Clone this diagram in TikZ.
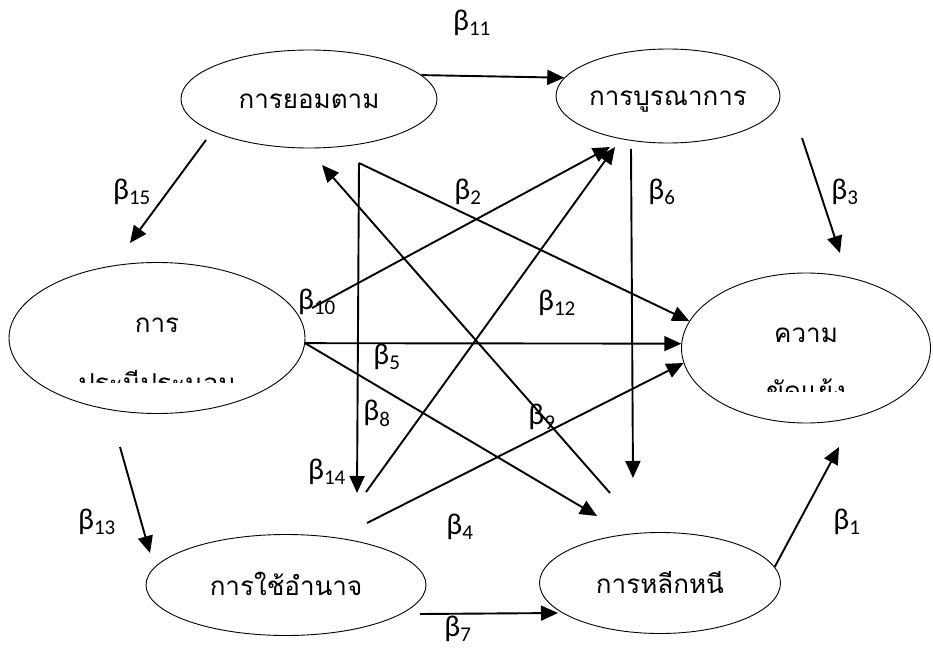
\documentclass[tikz,border=0pt]{standalone}
\usepackage{fontspec}
\setmainfont{Carlito}
\newfontfamily\thaifont[Script=Thai]{Loma}
\usetikzlibrary{shapes.geometric,arrows.meta}

\tikzset{
  latent/.style={ellipse, draw, line width=0.9pt, inner sep=0pt, text height=20pt, text depth=0pt, font=\thaifont\fontsize{26}{30}\selectfont},
  thaitext/.style={font=\thaifont\fontsize{26}{30}\selectfont, anchor=base, inner sep=0pt},
  coef/.style={font=\fontsize{30}{35}\selectfont, inner sep=0pt},
  effect/.style={line width=1.9pt, -{Triangle[length=17pt,width=15pt]}}
}

\begin{document}
\begin{tikzpicture}[x=1pt,y=-1pt]
        \useasboundingbox (0,0) rectangle (933,650);

        % Define the variables
        \node[latent, minimum width=256pt, minimum height=98pt] (comply) at (309,99) {การยอมตาม};
        \node[latent, minimum width=224pt, minimum height=94pt] (integrate) at (668,96) {การบูรณาการ};
        \node[latent, minimum width=296pt, minimum height=151pt] (compromise) at (157,338) {};
        \node[latent, minimum width=249pt, minimum height=150pt] (conflict) at (806,348) {};
        \node[latent, minimum width=280pt, minimum height=101pt] (power) at (286,585) {การใช้อำนาจ};
        \node[latent, minimum width=241pt, minimum height=101pt] (avoid) at (660,583) {การหลีกหนี};

        % Two-line texts (second line cut off by the box)
        \node[thaitext] (compromiseA) at (157,332) {การ};
        \node[thaitext] (conflictA) at (806,342) {ความ};
        \begin{scope}
            \clip (0,250) rectangle (320,382);
            \node[thaitext] (compromiseB) at (157,392) {ประนีประนอม};
        \end{scope}
        \begin{scope}
            \clip (680,250) rectangle (933,391);
            \node[thaitext] (conflictB) at (806,400) {ขัดแย้ง};
        \end{scope}

        % Free ends of the paths
        \coordinate (fork) at (359,163);
        \coordinate (p15s) at (206,140);
        \coordinate (p15e) at (130,243);
        \coordinate (p3s) at (802,138);
        \coordinate (p3e) at (840,253);
        \coordinate (p13s) at (120,447);
        \coordinate (p13e) at (150,553);
        \coordinate (p1e) at (839,447);
        \coordinate (p7s) at (420,614);
        \coordinate (p7e) at (558,613);
        \coordinate (p10s) at (312,308);
        \coordinate (p10e) at (610,147);
        \coordinate (p8e) at (357,493);
        \coordinate (p12s) at (366,492);
        \coordinate (p12e) at (615,147);
        \coordinate (p9s) at (610,493);
        \coordinate (p9e) at (322,165);
        \coordinate (p6s) at (631,149);
        \coordinate (p6e) at (633,478);
        \coordinate (p4s) at (367,523);
        \coordinate (p0e) at (597,516);

        % Paths around the outside
        \draw[effect] (comply.12) -- (integrate.170);
        \draw[effect] (p15s) -- (p15e);
        \draw[effect] (p3s) -- (p3e);
        \draw[effect] (p13s) -- (p13e);
        \draw[effect] (avoid.8) -- (p1e);
        \draw[effect] (p7s) -- (p7e);

        % Paths across the middle
        \draw[effect] (compromise.-2) -- (conflict.178);
        \draw[effect] (compromise.-2) -- (p0e);
        \draw[effect] (p10s) -- (p10e);
        \draw[effect] (fork) -- (conflict.167);
        \draw[effect] (fork) -- (p8e);
        \draw[effect] (p12s) -- (p12e);
        \draw[effect] (p9s) -- (p9e);
        \draw[effect] (p6s) -- (p6e);
        \draw[effect] (p4s) -- (conflict.187);

        % Path coefficients
        \node[coef] (b11) at (472,23) {β\textsubscript{11}};
        \node[coef] (b15) at (132,192) {β\textsubscript{15}};
        \node[coef] (b2) at (468,192) {β\textsubscript{2}};
        \node[coef] (b6) at (662,192) {β\textsubscript{6}};
        \node[coef] (b3) at (845,192) {β\textsubscript{3}};
        \node[coef] (b10) at (317,302) {β\textsubscript{10}};
        \node[coef] (b12) at (557,303) {β\textsubscript{12}};
        \node[coef] (b5) at (387,357) {β\textsubscript{5}};
        \node[coef] (b8) at (377,413) {β\textsubscript{8}};
        \node[coef] (b9) at (542,417) {β\textsubscript{9}};
        \node[coef] (b14) at (327,472) {β\textsubscript{14}};
        \node[coef] (b13) at (97,522) {β\textsubscript{13}};
        \node[coef] (b4) at (460,527) {β\textsubscript{4}};
        \node[coef] (b1) at (847,522) {β\textsubscript{1}};
        \node[coef, anchor=south] (b7) at (458,642) {β\textsubscript{7}};

\end{tikzpicture}
\end{document}
